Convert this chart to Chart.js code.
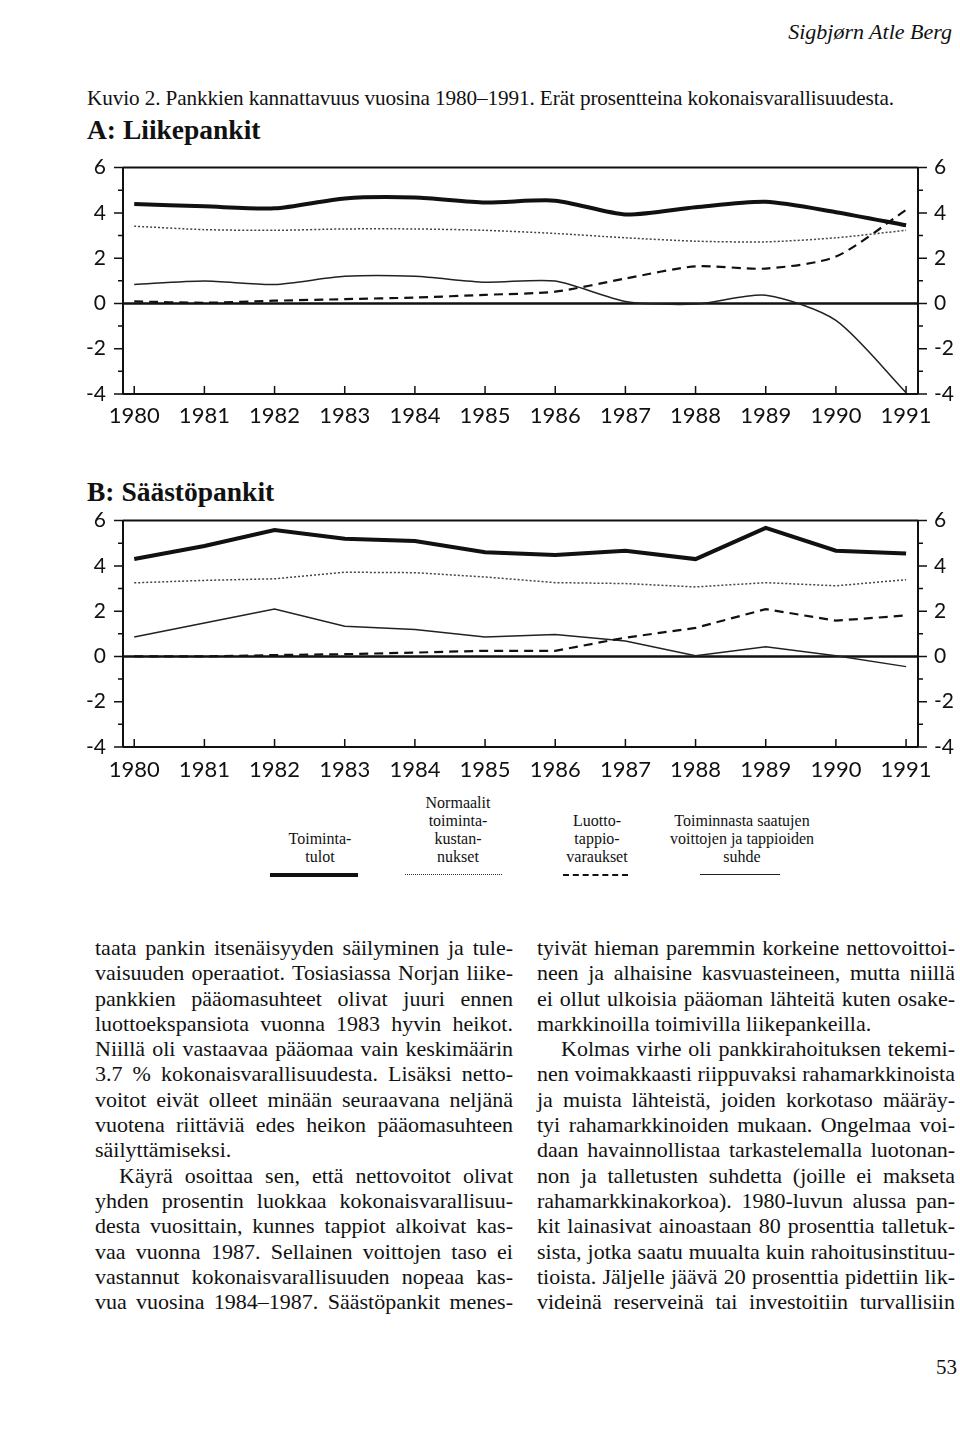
<!DOCTYPE html>
<html>
<head>
<meta charset="utf-8">
<script src="https://cdn.jsdelivr.net/npm/chart.js@4.4.1/dist/chart.umd.min.js"></script>
<style>
  body { margin: 0; background: #fff; width: 960px; height: 1446px; position: relative; overflow: hidden; color: #111; font-family: "Liberation Serif", serif; }
  .abs { position: absolute; }
  canvas { position: absolute; left: 0; }
  .hdr { right: 8px; top: 19px; font-size: 22px; font-style: italic; }
  .cap { left: 87px; top: 86px; font-size: 21.2px; letter-spacing: -0.1px; }
  .ttl { left: 87px; font-size: 27.5px; font-weight: bold; }
  .leg { font-size: 16px; line-height: 18px; text-align: center; transform: translateX(-50%); white-space: nowrap; }
  .col { width: 418px; font-size: 22px; line-height: 25.3px; }
  .ln { white-space: nowrap; height: 25.3px; }
  .ln span { display: inline-block; transform-origin: left center; }
  .ind { padding-left: 24px; }
</style>
</head>
<body>
<div class="abs hdr">Sigbjørn Atle Berg</div>
<div class="abs cap">Kuvio 2. Pankkien kannattavuus vuosina 1980–1991. Erät prosentteina kokonaisvarallisuudesta.</div>
<div class="abs ttl" style="top:114px">A: Liikepankit</div>
<canvas id="chartA" width="960" height="285" style="top:150px"></canvas>
<div class="abs ttl" style="top:476px">B: Säästöpankit</div>
<canvas id="chartB" width="960" height="285" style="top:503px"></canvas>

<div class="abs leg" style="left:320px;top:830px">Toiminta-<br>tulot</div>
<div class="abs leg" style="left:458px;top:794px">Normaalit<br>toiminta-<br>kustan-<br>nukset</div>
<div class="abs leg" style="left:597px;top:812px">Luotto-<br>tappio-<br>varaukset</div>
<div class="abs leg" style="left:742px;top:812px">Toiminnasta saatujen<br>voittojen ja tappioiden<br>suhde</div>
<div class="abs" style="left:270px;top:873px;width:88px;border-top:4px solid #111"></div>
<div class="abs" style="left:405px;top:874px;width:97px;border-top:1.5px dotted #333"></div>
<div class="abs" style="left:563px;top:874px;width:65px;border-top:2px dashed #111"></div>
<div class="abs" style="left:700px;top:874px;width:80px;border-top:1.5px solid #222"></div>

<div class="abs col" id="left" style="left:95px;top:935px"></div>
<div class="abs col" id="right" style="left:537px;top:935px"></div>
<div class="abs" style="left:936px;top:1355px;font-size:21px">53</div>

<script>
const years = [1980, 1981, 1982, 1983, 1984, 1985, 1986, 1987, 1988, 1989, 1990, 1991];
const yTicks = [-4, -3, -2, -1, 0, 1, 2, 3, 4, 5, 6];

// A: Liikepankit
const aTulot = [4.39, 4.29, 4.2, 4.64, 4.68, 4.46, 4.54, 3.93, 4.25, 4.49, 4.03, 3.45];
const aKust = [3.41, 3.26, 3.23, 3.29, 3.29, 3.23, 3.09, 2.9, 2.75, 2.72, 2.9, 3.23];
const aVar = [0.09, 0.03, 0.12, 0.19, 0.26, 0.38, 0.52, 1.1, 1.64, 1.54, 2.07, 4.13];
const aSuhde = [0.84, 0.99, 0.84, 1.2, 1.2, 0.94, 0.99, 0.09, -0.03, 0.36, -0.75, -3.94];

// B: Säästöpankit
const bTulot = [4.3, 4.88, 5.58, 5.2, 5.1, 4.6, 4.48, 4.67, 4.3, 5.68, 4.67, 4.55];
const bKust = [3.25, 3.36, 3.43, 3.72, 3.7, 3.51, 3.26, 3.22, 3.07, 3.26, 3.12, 3.39];
const bVar = [0, 0, 0.06, 0.1, 0.17, 0.25, 0.25, 0.83, 1.26, 2.09, 1.58, 1.81];
const bSuhde = [0.86, 1.48, 2.09, 1.33, 1.19, 0.86, 0.97, 0.68, 0.03, 0.43, 0.03, -0.45];

const leftLines = [
  ['taata pankin itsenäisyyden säilyminen ja tule-', 'j'],
  ['vaisuuden operaatiot. Tosiasiassa Norjan liike-', 'j'],
  ['pankkien pääomasuhteet olivat juuri ennen', 'j'],
  ['luottoekspansiota vuonna 1983 hyvin heikot.', 'j'],
  ['Niillä oli vastaavaa pääomaa vain keskimäärin', 'j'],
  ['3.7 % kokonaisvarallisuudesta. Lisäksi netto-', 'j'],
  ['voitot eivät olleet minään seuraavana neljänä', 'j'],
  ['vuotena riittäviä edes heikon pääomasuhteen', 'j'],
  ['säilyttämiseksi.', ''],
  ['Käyrä osoittaa sen, että nettovoitot olivat', 'ji'],
  ['yhden prosentin luokkaa kokonaisvarallisuu-', 'j'],
  ['desta vuosittain, kunnes tappiot alkoivat kas-', 'j'],
  ['vaa vuonna 1987. Sellainen voittojen taso ei', 'j'],
  ['vastannut kokonaisvarallisuuden nopeaa kas-', 'j'],
  ['vua vuosina 1984–1987. Säästöpankit menes-', 'j']
];
const rightLines = [
  ['tyivät hieman paremmin korkeine nettovoittoi-', 'j'],
  ['neen ja alhaisine kasvuasteineen, mutta niillä', 'j'],
  ['ei ollut ulkoisia pääoman lähteitä kuten osake-', 'j'],
  ['markkinoilla toimivilla liikepankeilla.', ''],
  ['Kolmas virhe oli pankkirahoituksen tekemi-', 'ji'],
  ['nen voimakkaasti riippuvaksi rahamarkkinoista', 'j'],
  ['ja muista lähteistä, joiden korkotaso määräy-', 'j'],
  ['tyi rahamarkkinoiden mukaan. Ongelmaa voi-', 'j'],
  ['daan havainnollistaa tarkastelemalla luotonan-', 'j'],
  ['non ja talletusten suhdetta (joille ei makseta', 'j'],
  ['rahamarkkinakorkoa). 1980-luvun alussa pan-', 'j'],
  ['kit lainasivat ainoastaan 80 prosenttia talletuk-', 'j'],
  ['sista, jotka saatu muualta kuin rahoitusinstituu-', 'j'],
  ['tioista. Jäljelle jäävä 20 prosenttia pidettiin lik-', 'j'],
  ['videinä reserveinä tai investoitiin turvallisiin', 'j']
];

function fillColumn(id, lines) {
  const col = document.getElementById(id);
  lines.forEach(([txt, mode]) => {
    const d = document.createElement('div');
    d.className = 'ln' + (mode.includes('i') ? ' ind' : '');
    const s = document.createElement('span');
    s.textContent = txt;
    d.appendChild(s);
    col.appendChild(d);
    if (mode.includes('j')) {
      const W = 418 - (mode.includes('i') ? 24 : 0);
      const w = s.getBoundingClientRect().width;
      const gaps = txt.split(' ').length - 1;
      if (w < W && gaps > 0) s.style.wordSpacing = ((W - w) / gaps) + 'px';
      else if (w > W) s.style.transform = 'scaleX(' + (W / w) + ')';
    }
  });
}
fillColumn('left', leftLines);
fillColumn('right', rightLines);

const frame = {
  id: 'frame',
  beforeDatasetsDraw(chart) {
    const { ctx, chartArea: a, scales: { x, y } } = chart;
    ctx.save();
    ctx.strokeStyle = '#111';
    ctx.lineWidth = 2;
    ctx.beginPath();
    ctx.moveTo(a.left, a.top); ctx.lineTo(a.right, a.top);
    ctx.moveTo(a.left, a.bottom); ctx.lineTo(a.right, a.bottom);
    ctx.moveTo(a.left, a.top); ctx.lineTo(a.left, a.bottom);
    ctx.moveTo(a.right, a.top); ctx.lineTo(a.right, a.bottom);
    ctx.stroke();
    ctx.lineWidth = 2.5;
    const y0 = y.getPixelForValue(0);
    ctx.beginPath(); ctx.moveTo(a.left, y0); ctx.lineTo(a.right, y0); ctx.stroke();
    ctx.lineWidth = 1.5;
    ctx.beginPath();
    yTicks.forEach(v => {
      const py = y.getPixelForValue(v);
      const len = v % 2 === 0 ? 9 : 5;
      ctx.moveTo(a.left - len, py); ctx.lineTo(a.left, py);
      ctx.moveTo(a.right, py); ctx.lineTo(a.right + len, py);
    });
    years.forEach(v => {
      const px = x.getPixelForValue(v);
      ctx.moveTo(px, a.bottom); ctx.lineTo(px, a.bottom - 8);
    });
    ctx.stroke();
    ctx.restore();
  }
};

function makeChart(id, tulot, kust, vara, suhde, tension, xPad, areaTop, areaBottom) {
  const pts = arr => years.map((yr, i) => ({ x: yr, y: arr[i] }));
  const tickFont = { family: 'Lato', size: 21 };
  const canvas = document.getElementById(id);
  const chart = new Chart(canvas, {
    type: 'line',
    data: {
      datasets: [
        { label: 'Toiminta-tulot', data: pts(tulot), borderColor: '#111', borderWidth: 4 },
        { label: 'Normaalit toimintakustannukset', data: pts(kust), borderColor: '#444', borderWidth: 1.5, borderDash: [2, 2] },
        { label: 'Luottotappiovaraukset', data: pts(vara), borderColor: '#111', borderWidth: 2.2, borderDash: [9, 6] },
        { label: 'Toiminnasta saatujen voittojen ja tappioiden suhde', data: pts(suhde), borderColor: '#222', borderWidth: 1.5 }
      ]
    },
    options: {
      responsive: false,
      animation: false,
      devicePixelRatio: 1,
      layout: { padding: { top: 18, left: 0, right: 0, bottom: 0 } },
      elements: { point: { radius: 0 }, line: { tension: tension, borderCapStyle: 'butt' } },
      plugins: { legend: { display: false }, tooltip: { enabled: false } },
      scales: {
        x: {
          type: 'linear', min: 1979.84, max: 1991.17,
          afterBuildTicks(s) { s.ticks = years.map(v => ({ value: v })); },
          afterFit(s) { s.height = 37; },
          grid: { display: false }, border: { display: false },
          ticks: { font: { family: 'Lato', size: 22 }, color: '#111', padding: xPad, autoSkip: false, maxRotation: 0, callback: v => String(v) }
        },
        y: {
          position: 'left', min: -4, max: 6,
          afterFit(s) { s.width = 123; },
          grid: { display: false }, border: { display: false },
          ticks: { stepSize: 2, font: tickFont, color: '#111', padding: 9 }
        },
        y2: {
          position: 'right', min: -4, max: 6,
          afterFit(s) { s.width = 42; },
          grid: { display: false }, border: { display: false },
          ticks: { stepSize: 2, font: tickFont, color: '#111', padding: 8 }
        }
      }
    },
    plugins: [frame]
  });
  // place the plot area between areaTop and areaBottom on the page
  const want = areaBottom - areaTop;
  for (let k = 0; k < 3; k++) {
    const h = chart.chartArea.bottom - chart.chartArea.top;
    if (Math.abs(h - want) < 0.5) break;
    chart.resize(960, Math.round(chart.height + want - h));
  }
  canvas.style.top = (areaTop - chart.chartArea.top) + 'px';
  return chart;
}

makeChart('chartA', aTulot, aKust, aVar, aSuhde, 0.25, 1, 168, 398);
makeChart('chartB', bTulot, bKust, bVar, bSuhde, 0, 2, 521, 751);
</script>
</body>
</html>
